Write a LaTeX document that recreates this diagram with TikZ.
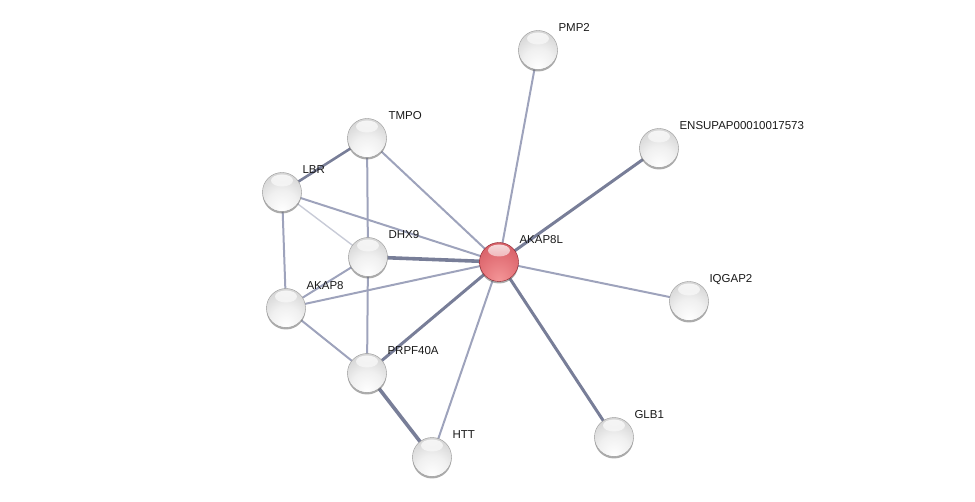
\documentclass[tikz,border=0pt]{standalone}
\usepackage{fontspec}
\setmainfont{Liberation Sans}
\usetikzlibrary{backgrounds, calc, fadings}
\definecolor{edgegray}{RGB}{158,163,188}
\definecolor{edgedark}{RGB}{120,126,152}
\definecolor{edgelight}{RGB}{200,203,215}
\definecolor{rimred}{RGB}{140,30,40}
\definecolor{redA}{RGB}{244,150,152}
\definecolor{redB}{RGB}{226,112,118}
\definecolor{redC}{RGB}{196,72,82}
\pgfdeclareradialshading{greyball}{\pgfpoint{0bp}{-24bp}}{color(0bp)=(white); color(20bp)=(black!6); color(42bp)=(black!20); color(60bp)=(black!32); color(75bp)=(black!40)}
\pgfdeclareradialshading{redball}{\pgfpoint{0bp}{-24bp}}{color(0bp)=(redA); color(25bp)=(redB); color(55bp)=(redC); color(75bp)=(rimred)}
\tikzset{
  protein/.style={circle, minimum size=39pt, inner sep=0pt, shading=greyball, draw=black!40, line width=0.4pt,
    preaction={fill=black!60, opacity=0.55, transform canvas={yshift=-2pt}},
    path picture={\fill[white, path fading=south, opacity=0.8] ($(path picture bounding box.north)+(0,-8pt)$) ellipse (11pt and 6pt);}},
  query/.style={protein, shading=redball, draw=rimred},
  lbl/.style={anchor=base west, font=\fontsize{11.5}{13}\selectfont, text=black!90},
  link/.style={edgegray, line width=2pt},
  strong/.style={edgedark, line width=3pt},
  weak/.style={edgelight, line width=1.4pt}
}
\begin{document}
\begin{tikzpicture}[x=1pt, y=-1pt]
  \useasboundingbox (0,0) rectangle (975,502);

  % proteins
  \node[query]   (akap8l) at (499,262) {};
  \node[protein] (pmp2)   at (538,50)  {};
  \node[protein] (ensu)   at (659,148) {};
  \node[protein] (tmpo)   at (367,138) {};
  \node[protein] (lbr)    at (282,192) {};
  \node[protein] (dhx9)   at (368,257) {};
  \node[protein] (iqgap2) at (689,301) {};
  \node[protein] (akap8)  at (286,308) {};
  \node[protein] (prpf)   at (367,373) {};
  \node[protein] (htt)    at (432,457) {};
  \node[protein] (glb1)   at (614,437) {};

  % labels
  \node[lbl] (akap8lL) at ([shift={(17pt,18pt)}]akap8l.center) {AKAP8L};
  \node[lbl] (pmp2L)   at ([shift={(17pt,18pt)}]pmp2.center)   {PMP2};
  \node[lbl] (ensuL)   at ([shift={(17pt,18pt)}]ensu.center)   {ENSUPAP00010017573};
  \node[lbl] (tmpoL)   at ([shift={(18pt,18pt)}]tmpo.center)   {TMPO};
  \node[lbl] (lbrL)    at ([shift={(17pt,18pt)}]lbr.center)    {LBR};
  \node[lbl] (dhx9L)   at ([shift={(17pt,18pt)}]dhx9.center)   {DHX9};
  \node[lbl] (iqgap2L) at ([shift={(17pt,18pt)}]iqgap2.center) {IQGAP2};
  \node[lbl] (akap8L)  at ([shift={(17pt,18pt)}]akap8.center)  {AKAP8};
  \node[lbl] (prpfL)   at ([shift={(17pt,18pt)}]prpf.center)   {PRPF40A};
  \node[lbl] (httL)    at ([shift={(17pt,18pt)}]htt.center)    {HTT};
  \node[lbl] (glb1L)   at ([shift={(17pt,18pt)}]glb1.center)   {GLB1};

  % interactions
  \begin{pgfonlayer}{background}
    \draw[weak]   (lbr.center) -- (dhx9.center);
    \draw[link]   (akap8l.center) -- (pmp2.center);
    \draw[strong] (akap8l.center) -- (ensu.center);
    \draw[link]   (akap8l.center) -- (iqgap2.center);
    \draw[strong] (akap8l.center) -- (glb1.center);
    \draw[link]   (akap8l.center) -- (htt.center);
    \draw[strong] (akap8l.center) -- (prpf.center);
    \draw[link]   (akap8l.center) -- (akap8.center);
    \draw[strong, line width=3.6pt] (akap8l.center) -- (dhx9.center);
    \draw[link]   (akap8l.center) -- (lbr.center);
    \draw[link]   (akap8l.center) -- (tmpo.center);
    \draw[strong, line width=2.6pt] (tmpo.center) -- (lbr.center);
    \draw[link]   (tmpo.center) -- (dhx9.center);
    \draw[link]   (lbr.center) -- (akap8.center);
    \draw[link]   (dhx9.center) -- (akap8.center);
    \draw[link]   (dhx9.center) -- (prpf.center);
    \draw[link]   (akap8.center) -- (prpf.center);
    \draw[strong, line width=3.6pt] (prpf.center) -- (htt.center);
  \end{pgfonlayer}
\end{tikzpicture}
\end{document}
